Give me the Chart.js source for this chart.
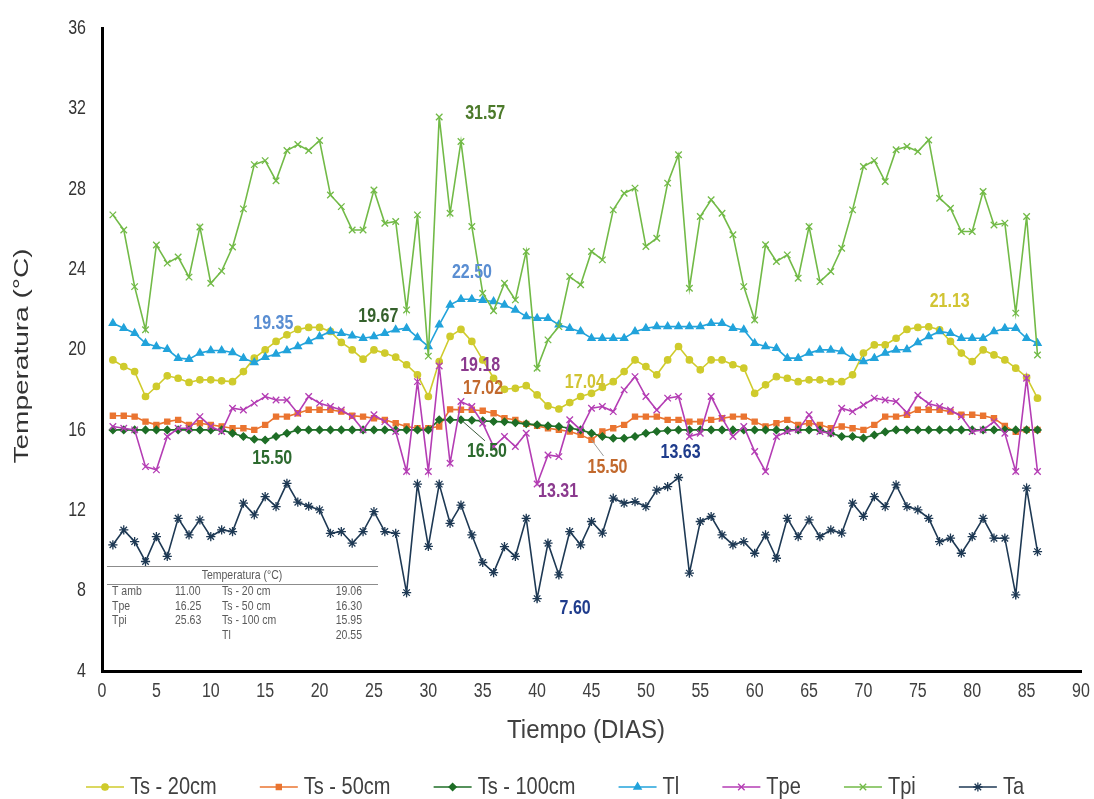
<!DOCTYPE html>
<html>
<head>
<meta charset="utf-8">
<script src="https://cdn.jsdelivr.net/npm/chart.js@4"></script>
<style>
  html, body { margin: 0; padding: 0; background: #ffffff; }
  #wrap { width: 1094px; height: 799px; }
</style>
</head>
<body>
<div id="wrap"><canvas id="chart" width="1094" height="799"></canvas></div>
<script>
// Days of the measurement campaign
const days = [1,2,3,4,5,6,7,8,9,10,11,12,13,14,15,16,17,18,19,20,
  21,22,23,24,25,26,27,28,29,30,31,32,33,34,35,36,37,38,39,40,
  41,42,43,44,45,46,47,48,49,50,51,52,53,54,55,56,57,58,59,60,
  61,62,63,64,65,66,67,68,69,70,71,72,73,74,75,76,77,78,79,80,
  81,82,83,84,85,86];

// Soil temperature at 20 cm (°C)
const ts20 = [19.48,19.15,18.9,17.66,18.16,18.69,18.57,18.36,18.49,18.49,
  18.44,18.4,18.9,19.57,19.98,20.4,20.73,21.0,21.1,21.1,
  20.9,20.35,19.98,19.52,19.98,19.82,19.62,19.24,18.74,17.66,
  19.4,20.65,21.0,20.4,19.48,18.57,18.02,18.07,18.2,17.74,
  17.19,17.04,17.36,17.66,17.82,18.12,18.4,18.9,19.48,19.15,
  18.74,19.48,20.15,19.48,18.99,19.48,19.48,19.24,19.07,17.82,
  18.24,18.65,18.57,18.4,18.49,18.49,18.4,18.4,18.74,19.82,
  20.23,20.23,20.56,21.0,21.1,21.13,20.98,20.4,19.82,19.4,
  19.98,19.73,19.48,19.07,18.62,17.58];

// Soil temperature at 50 cm (°C)
const ts50 = [16.7,16.7,16.66,16.41,16.25,16.41,16.5,16.25,16.33,16.25,
  16.17,16.08,16.08,16.0,16.25,16.66,16.66,16.83,17.0,17.0,
  17.0,16.91,16.7,16.66,16.58,16.5,16.33,16.17,16.08,16.08,
  16.17,17.02,17.0,17.0,16.95,16.83,16.58,16.5,16.3,16.2,
  16.08,16.0,15.92,15.75,15.5,15.92,16.08,16.25,16.66,16.66,
  16.66,16.5,16.5,16.41,16.41,16.5,16.58,16.66,16.66,16.41,
  16.17,16.33,16.5,16.25,16.33,16.25,16.08,16.17,16.08,16.0,
  16.25,16.66,16.66,16.75,17.0,17.0,17.0,16.91,16.75,16.75,
  16.7,16.58,16.2,15.9,16.0,16.0];

// Soil temperature at 100 cm (°C)
const ts100 = [16.0,16.0,16.0,16.0,16.0,16.0,16.0,16.0,16.0,16.0,
  16.0,15.83,15.67,15.53,15.5,15.67,15.83,16.0,16.0,16.0,
  16.0,16.0,16.0,16.0,16.0,16.0,16.0,16.0,16.0,16.0,
  16.5,16.5,16.5,16.48,16.45,16.42,16.4,16.35,16.3,16.25,
  16.2,16.17,16.08,16.0,15.83,15.67,15.58,15.58,15.67,15.83,
  15.92,15.97,16.0,16.0,16.0,16.0,16.0,16.0,16.0,16.0,
  16.0,16.0,16.0,16.0,16.0,16.0,15.83,15.67,15.67,15.6,
  15.75,15.9,16.0,16.0,16.0,16.0,16.0,16.0,16.0,16.0,
  16.0,16.0,16.0,16.0,16.0,16.0];

// Tl (°C)
const tl = [21.31,21.06,20.81,20.31,20.15,20.01,19.57,19.52,19.82,19.95,
  19.95,19.85,19.57,19.35,19.62,19.78,19.95,20.15,20.4,20.65,
  20.9,20.81,20.68,20.56,20.65,20.81,20.98,21.06,20.6,20.15,
  21.23,22.22,22.5,22.5,22.45,22.39,22.22,21.97,21.64,21.56,
  21.56,21.23,21.06,20.89,20.56,20.56,20.56,20.56,20.89,21.06,
  21.14,21.14,21.14,21.14,21.14,21.31,21.31,21.06,20.98,20.31,
  20.15,20.06,19.57,19.57,19.82,19.98,19.98,19.9,19.57,19.4,
  19.57,19.82,19.98,20.0,20.35,20.65,20.9,20.81,20.56,20.56,
  20.56,20.89,21.06,21.06,20.56,20.31];

// Tpe (°C)
const tpe = [16.17,16.08,16.0,14.17,14.01,15.67,16.08,16.08,16.66,16.17,
  15.92,17.08,16.99,17.33,17.66,17.49,17.49,16.83,17.66,17.33,
  17.16,16.99,16.66,16.0,16.75,16.41,15.92,13.93,18.4,13.93,
  19.18,14.34,17.41,17.16,16.33,15.17,15.67,15.17,15.83,13.31,
  14.75,14.67,16.5,16.0,17.08,17.16,16.91,17.99,18.65,17.66,
  16.99,17.58,17.66,15.67,15.83,17.66,16.58,15.67,16.17,14.92,
  13.93,15.67,15.92,16.0,16.75,15.92,15.83,17.08,16.91,17.24,
  17.58,17.49,17.41,16.85,17.72,17.3,17.16,16.99,16.66,15.92,
  16.0,16.41,15.83,13.93,18.57,13.93];

// Tpi (°C)
const tpi = [26.7,25.95,23.13,20.98,25.2,24.3,24.6,23.6,26.1,23.3,
  23.9,25.1,27.0,29.2,29.4,28.4,29.9,30.2,29.9,30.4,
  27.69,27.11,25.95,25.95,27.94,26.28,26.37,21.97,26.7,19.67,
  31.57,26.78,30.35,26.12,22.8,21.93,23.3,22.47,24.88,19.07,
  20.48,21.14,23.63,23.22,24.88,24.46,26.95,27.78,28.03,25.13,
  25.54,28.28,29.69,23.05,26.62,27.45,26.78,25.71,23.13,21.47,
  25.21,24.38,24.71,23.55,26.12,23.38,23.88,25.04,26.95,29.11,
  29.4,28.36,29.94,30.1,29.85,30.43,27.53,27.03,25.87,25.87,
  27.86,26.2,26.29,21.81,26.62,19.73];

// Ta, ambient temperature (°C)
const ta = [10.28,11.02,10.44,9.45,10.69,9.7,11.6,10.77,11.52,10.69,
  11.02,10.94,12.35,11.77,12.68,12.18,13.34,12.4,12.2,12.02,
  10.85,10.94,10.36,10.94,11.93,10.94,10.85,7.9,13.3,10.2,
  13.3,11.35,12.26,10.77,9.4,8.9,10.19,9.7,11.6,7.6,
  10.36,8.78,10.94,10.28,11.44,10.86,12.6,12.35,12.43,12.18,
  13.0,13.18,13.63,8.87,11.44,11.69,10.77,10.28,10.44,9.86,
  10.77,9.61,11.6,10.69,11.52,10.69,11.02,10.86,12.35,11.7,
  12.68,12.18,13.26,12.18,12.02,11.6,10.44,10.61,9.86,10.69,
  11.6,10.61,10.61,7.79,13.1,9.94];

// Axis ticks and titles
const xTicks = [0,5,10,15,20,25,30,35,40,45,50,55,60,65,70,75,80,85,90];
const yTicks = [4,8,12,16,20,24,28,32,36];
const xTitle = 'Tiempo (DIAS)';
const yTitle = 'Temperatura (°C)';

// Summary table (mean temperatures)
const tableHeader = 'Temperatura (°C)';
const tableRows = [
  ['T amb', '11.00', 'Ts - 20 cm', '19.06'],
  ['Tpe', '16.25', 'Ts - 50 cm', '16.30'],
  ['Tpi', '25.63', 'Ts - 100 cm', '15.95'],
  ['', '', 'Tl', '20.55']
];

const FONT = "'Liberation Sans', Arial, Helvetica, sans-serif";
const SY = 1.32; // vertical stretch of the lettering

const series = [
  { label: 'Ts - 20cm',  values: ts20,  color: '#CFCB2C', style: 'circle',   radius: 3.2 },
  { label: 'Ts - 50cm',  values: ts50,  color: '#EA7430', style: 'rect',     radius: 3.6 },
  { label: 'Ts - 100cm', values: ts100, color: '#1E6E26', style: 'rectRot',  radius: 3.6 },
  { label: 'Tl',         values: tl,    color: '#22A3DB', style: 'triangle', radius: 4.2 },
  { label: 'Tpe',        values: tpe,   color: '#B43DB4', style: 'crossRot', radius: 4.6 },
  { label: 'Tpi',        values: tpi,   color: '#72BA47', style: 'crossRot', radius: 4.6 },
  { label: 'Ta',         values: ta,    color: '#1E3954', style: 'star',     radius: 4.6 }
];

// Value callouts: dataset index, point index, offset of the text from the point
const callouts = [
  { ds: 5, i: 30, dx: 46, dy: -4,  color: '#4C7A2A' },
  { ds: 5, i: 29, dx: -50, dy: -40, color: '#35612C' },
  { ds: 3, i: 32, dx: 11, dy: -27, color: '#5A8ED2' },
  { ds: 3, i: 13, dx: 19, dy: -39, color: '#5A8ED2' },
  { ds: 0, i: 75, dx: 21, dy: -25, color: '#D1C433' },
  { ds: 0, i: 41, dx: 26, dy: -26, color: '#D1C433' },
  { ds: 4, i: 30, dx: 41, dy: 0,   color: '#8B3A8E' },
  { ds: 1, i: 31, dx: 33, dy: -21, color: '#C2692D' },
  { ds: 2, i: 32, dx: 26, dy: 32,  color: '#2C6A2E', lead: [-2, -11], leadColor: '#3B5B3B' },
  { ds: 2, i: 14, dx: 7,  dy: 19,  color: '#2C6A2E' },
  { ds: 1, i: 44, dx: 16, dy: 28,  color: '#C2692D', lead: [-4, -12], leadColor: '#9A9A9A' },
  { ds: 4, i: 39, dx: 21, dy: 8,   color: '#8B3A8E' },
  { ds: 6, i: 52, dx: 2,  dy: -25, color: '#1F3C8C' },
  { ds: 6, i: 39, dx: 38, dy: 10,  color: '#1F3C8C' }
];

// Text drawn with a vertical stretch
function tallText(ctx, text, x, y, sy, align) {
  ctx.save();
  ctx.translate(x, y);
  ctx.scale(1, sy);
  ctx.textAlign = align;
  ctx.textBaseline = 'middle';
  ctx.fillText(text, 0, 0);
  ctx.restore();
}

const datasets = series.map((s, k) => ({
  label: s.label,
  data: s.values.map((v, i) => ({ x: days[i], y: v })),
  borderColor: s.color,
  backgroundColor: s.color,
  borderWidth: 1.6,
  pointStyle: s.style,
  pointRadius: s.radius,
  pointBackgroundColor: s.color,
  pointBorderColor: s.color,
  pointBorderWidth: 1.3,
  tension: 0,
  order: series.length - k
}));

// Tick labels and axis titles
const axisTextPlugin = {
  id: 'axisText',
  afterDraw(chart) {
    const ctx = chart.ctx;
    const xs = chart.scales.x, ys = chart.scales.y;
    ctx.save();
    ctx.fillStyle = '#333333';
    ctx.font = '16px ' + FONT;
    yTicks.forEach(v => tallText(ctx, String(v), 86, ys.getPixelForValue(v), SY, 'right'));
    ctx.fillStyle = '#404040';
    xTicks.forEach(v => tallText(ctx, String(v), xs.getPixelForValue(v), 691, SY, 'center'));
    ctx.font = '24px ' + FONT;
    tallText(ctx, xTitle, 586, 731, 1.1, 'center');
    ctx.fillStyle = '#333333';
    ctx.font = '20px ' + FONT;
    ctx.save();
    ctx.translate(22, 356);
    ctx.rotate(-Math.PI / 2);
    ctx.scale(1.4, 1);
    ctx.textAlign = 'center';
    ctx.textBaseline = 'middle';
    ctx.fillText(yTitle, 0, 0);
    ctx.restore();
    ctx.restore();
  }
};

const calloutPlugin = {
  id: 'callouts',
  afterDatasetsDraw(chart) {
    const ctx = chart.ctx;
    ctx.save();
    ctx.font = 'bold 16px ' + FONT;
    callouts.forEach(c => {
      const el = chart.getDatasetMeta(c.ds).data[c.i];
      const v = chart.data.datasets[c.ds].data[c.i].y;
      const tx = el.x + c.dx, ty = el.y + c.dy;
      if (c.lead) {
        ctx.strokeStyle = c.leadColor;
        ctx.lineWidth = 1;
        ctx.beginPath();
        ctx.moveTo(el.x, el.y);
        ctx.lineTo(tx + c.lead[0], ty + c.lead[1]);
        ctx.stroke();
      }
      ctx.fillStyle = c.color;
      tallText(ctx, v.toFixed(2), tx, ty, 1.25, 'center');
    });
    ctx.restore();
  }
};

const tablePlugin = {
  id: 'summaryTable',
  afterDraw(chart) {
    const ctx = chart.ctx;
    ctx.save();
    ctx.strokeStyle = '#8C8C8C';
    ctx.lineWidth = 1;
    ctx.beginPath();
    ctx.moveTo(107, 566.5); ctx.lineTo(378, 566.5);
    ctx.moveTo(107, 584.5); ctx.lineTo(378, 584.5);
    ctx.stroke();
    ctx.fillStyle = '#5A5A5A';
    ctx.font = '10.5px ' + FONT;
    tallText(ctx, tableHeader, 242, 576, 1.2, 'center');
    tableRows.forEach((r, k) => {
      const y = 592 + k * 14.4;
      tallText(ctx, r[0], 112, y, 1.2, 'left');
      tallText(ctx, r[1], 175, y, 1.2, 'left');
      tallText(ctx, r[2], 222, y, 1.2, 'left');
      tallText(ctx, r[3], 362, y, 1.2, 'right');
    });
    ctx.restore();
  }
};

const legendPlugin = {
  id: 'bottomLegend',
  afterDraw(chart) {
    const ctx = chart.ctx;
    ctx.save();
    ctx.font = '20px ' + FONT;
    const lineLen = 38, gap = 6, y = 787, start = 86, end = 1024;
    const widths = series.map(s => lineLen + gap + ctx.measureText(s.label).width);
    const used = widths.reduce((a, b) => a + b, 0);
    const itemGap = (end - start - used) / (series.length - 1);
    let x = start;
    series.forEach((s, k) => {
      ctx.strokeStyle = s.color;
      ctx.fillStyle = s.color;
      ctx.lineWidth = 1.6;
      ctx.beginPath();
      ctx.moveTo(x, y); ctx.lineTo(x + lineLen, y);
      ctx.stroke();
      ctx.lineWidth = 1.3;
      Chart.helpers.drawPoint(ctx, { pointStyle: s.style, radius: s.radius, rotation: 0, borderWidth: 1.3 }, x + lineLen / 2, y);
      ctx.fillStyle = '#404040';
      tallText(ctx, s.label, x + lineLen + gap, y, 1.22, 'left');
      x += widths[k] + itemGap;
    });
    ctx.restore();
  }
};

new Chart(document.getElementById('chart'), {
  type: 'line',
  data: { datasets },
  plugins: [calloutPlugin, axisTextPlugin, tablePlugin, legendPlugin],
  options: {
    responsive: false,
    animation: false,
    layout: { padding: { left: 0, right: 13, top: 28, bottom: 0 } },
    plugins: { legend: { display: false }, tooltip: { enabled: false } },
    scales: {
      x: {
        type: 'linear',
        min: 0, max: 90,
        afterBuildTicks(scale) { scale.ticks = xTicks.map(v => ({ value: v })); },
        ticks: { display: false },
        grid: { display: false, drawTicks: false },
        border: { display: true, color: '#000000', width: 3 },
        afterFit(scale) { scale.height = 128; }
      },
      y: {
        min: 4, max: 36,
        afterBuildTicks(scale) { scale.ticks = yTicks.map(v => ({ value: v })); },
        ticks: { display: false },
        grid: { display: false, drawTicks: false },
        border: { display: true, color: '#000000', width: 3 },
        afterFit(scale) { scale.width = 102; }
      }
    }
  }
});
</script>
</body>
</html>
